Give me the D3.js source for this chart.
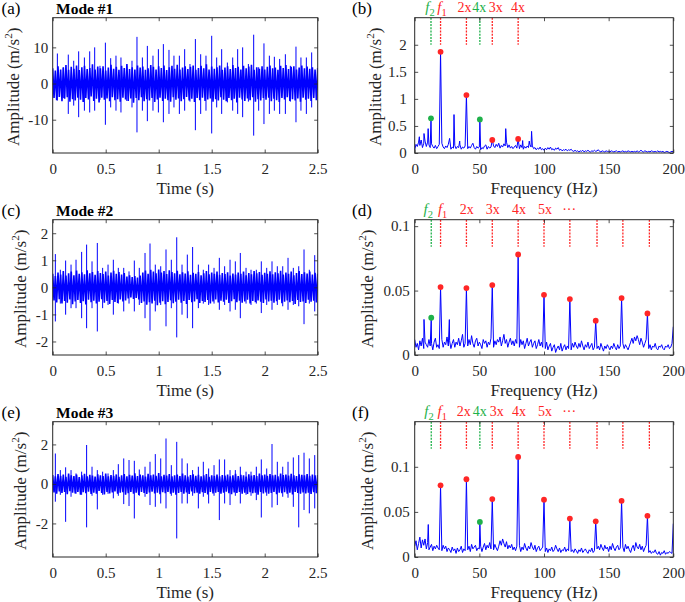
<!DOCTYPE html>
<html><head><meta charset="utf-8">
<script src="https://cdn.jsdelivr.net/npm/d3@7"></script>
<style>body{margin:0;background:#fff}svg{display:block}svg text{font-family:"Liberation Serif","Times New Roman",Times,serif}</style>
</head><body>
<svg id="c" width="685" height="602"></svg>
<script>
// ---------------- DATA ----------------
const timeTicks = [0, 0.5, 1, 1.5, 2, 2.5];
const freqTicks = [0, 50, 100, 150, 200];
const panelLetters = ["(a)", "(b)", "(c)", "(d)", "(e)", "(f)"];
const modeTitles = ["Mode #1", "Mode #2", "Mode #3"];

// time-domain: core band envelope (upper/lower, evenly spaced over 0..2.5 s)
const aCoreUp = [4.2,3.6,4.8,3.9,4.4,5.1,3.8,4.6,4.1,5.0,3.7,4.5,4.9,4.0,4.3,5.3,3.9,4.7,4.2,4.8,3.6,4.4,5.2,4.1,4.6,3.8,4.9,4.3,5.4,4.0,4.5,3.9,5.0,4.4,4.7,3.8,4.2,5.1,4.6,3.9,4.8,4.3,5.0,3.7,4.5,4.9,4.1,5.2,3.9,4.4,4.8,4.0,4.6,5.0,3.8,4.3,4.9,4.2,5.3,3.9,4.7,4.1,4.5,5.0,3.8,4.4,4.8,4.0,5.1,4.3,4.6,3.9,4.9,4.2,4.7,5.2,3.8,4.5,4.1,4.8,3.9,4.6,5.0,4.2,4.4,3.8,4.9,4.3,5.1,4.0,4.6,4.8,3.9,4.4,5.0,4.2,4.7,4.1,4.5,3.9,4.3];
const aCoreLo = [-4.0,-4.6,-3.7,-4.9,-4.2,-3.8,-5.0,-4.3,-4.7,-3.9,-4.5,-5.1,-4.0,-4.4,-3.6,-4.8,-4.2,-5.2,-3.9,-4.5,-4.1,-4.9,-3.8,-4.6,-4.3,-5.0,-3.9,-4.4,-4.8,-4.1,-5.3,-4.0,-4.6,-3.8,-4.9,-4.3,-4.7,-4.0,-5.1,-4.4,-3.9,-4.8,-4.2,-4.6,-5.0,-3.8,-4.5,-4.1,-4.9,-4.3,-3.7,-4.7,-4.2,-5.1,-4.0,-4.6,-3.9,-4.8,-4.4,-4.1,-5.0,-4.3,-4.7,-3.8,-4.5,-4.9,-4.0,-4.6,-4.2,-5.2,-3.9,-4.4,-4.8,-4.1,-4.6,-3.8,-5.0,-4.3,-4.7,-4.0,-4.5,-3.9,-4.9,-4.2,-4.6,-5.1,-4.0,-4.4,-3.8,-4.8,-4.3,-4.7,-4.1,-5.0,-3.9,-4.5,-4.2,-4.8,-4.0,-4.6,-4.3];
const aSpikeT = [0.044,0.100,0.147,0.198,0.245,0.299,0.349,0.396,0.446,0.497,0.547,0.597,0.644,0.698,0.748,0.795,0.846,0.893,0.946,0.997,1.044,1.097,1.144,1.195,1.245,1.295,1.346,1.396,1.446,1.500,1.547,1.594,1.648,1.698,1.745,1.792,1.846,1.896,1.943,1.993,2.044,2.091,2.141,2.195,2.242,2.295,2.342,2.393,2.443];
const aSpikeUp = [8.3,4.5,8.0,6.3,8.9,7.2,8.9,10.0,4.9,11.3,7.0,7.7,7.2,4.9,6.3,12.9,7.2,10.4,7.7,9.5,10.9,9.3,7.7,7.7,9.5,5.4,12.3,8.1,7.7,13.2,7.2,9.5,5.8,7.2,9.5,10.0,5.4,13.5,4.5,11.1,7.7,7.4,6.8,8.1,4.9,10.2,7.2,7.2,8.6];
const aSpikeDn = [-4.7,-4.0,-8.4,-6.1,-9.3,-7.5,-8.0,-7.5,-4.5,-11.4,-6.6,-7.5,-8.0,-4.8,-6.6,-13.5,-7.5,-10.4,-7.5,-8.0,-10.7,-8.4,-6.6,-8.4,-7.5,-5.0,-12.9,-8.4,-7.5,-13.8,-6.6,-8.4,-5.2,-7.5,-8.4,-9.3,-5.0,-14.4,-7.5,-11.2,-8.4,-7.5,-8.4,-8.4,-5.0,-10.7,-7.5,-8.4,-6.6];

const cCoreUp = [0.50,0.42,0.55,0.47,0.60,0.44,0.52,0.58,0.45,0.62,0.50,0.56,0.48,0.63,0.52,0.57,0.46,0.60,0.53,0.49,0.58,0.44,0.55,0.61,0.50,0.57,0.47,0.53,0.40,0.45,0.38,0.42,0.36,0.44,0.55,0.62,0.50,0.65,0.58,0.52,0.66,0.55,0.60,0.49,0.63,0.57,0.52,0.61,0.48,0.56,0.51,0.59,0.46,0.54,0.50,0.57,0.45,0.52,0.60,0.48,0.55,0.50,0.58,0.46,0.53,0.49,0.56,0.44,0.51,0.47,0.55,0.50,0.58,0.45,0.53,0.48,0.60,0.52,0.57,0.46,0.54,0.50,0.59,0.48,0.56,0.52,0.61,0.47,0.55,0.50,0.58,0.45,0.53,0.60,0.49,0.56,0.51,0.58,0.47,0.54,0.50];
const cCoreLo = [-0.48,-0.56,-0.44,-0.60,-0.50,-0.57,-0.45,-0.62,-0.52,-0.47,-0.58,-0.51,-0.63,-0.46,-0.55,-0.49,-0.60,-0.53,-0.44,-0.57,-0.50,-0.61,-0.47,-0.54,-0.58,-0.45,-0.52,-0.48,-0.41,-0.37,-0.43,-0.39,-0.45,-0.58,-0.52,-0.64,-0.55,-0.60,-0.49,-0.66,-0.57,-0.51,-0.62,-0.54,-0.48,-0.59,-0.53,-0.46,-0.57,-0.50,-0.61,-0.47,-0.55,-0.52,-0.44,-0.58,-0.50,-0.54,-0.47,-0.60,-0.52,-0.45,-0.56,-0.49,-0.53,-0.46,-0.58,-0.51,-0.44,-0.55,-0.49,-0.57,-0.52,-0.46,-0.60,-0.50,-0.55,-0.48,-0.53,-0.58,-0.45,-0.52,-0.49,-0.57,-0.51,-0.46,-0.59,-0.53,-0.48,-0.55,-0.50,-0.61,-0.47,-0.54,-0.52,-0.58,-0.46,-0.53,-0.49,-0.56,-0.51];
const cSpikeT = [0.025,0.072,0.122,0.173,0.220,0.273,0.320,0.371,0.421,0.471,0.522,0.572,0.619,0.670,0.720,0.770,0.817,0.871,0.918,0.968,1.019,1.069,1.119,1.170,1.220,1.270,1.320,1.374,1.421,1.471,1.522,1.572,1.622,1.673,1.723,1.770,1.824,1.871,1.921,1.968,2.019,2.069,2.119,2.170,2.220,2.270,2.321,2.371,2.421,2.472];
const cSpikeUp = [1.23,0.65,0.99,0.84,1.02,1.31,1.58,0.96,1.64,0.72,0.84,1.02,0.72,0.72,0.59,0.99,0.72,1.27,1.62,0.84,0.78,1.40,1.02,1.85,0.84,1.21,1.49,0.84,0.65,0.84,0.72,1.09,0.78,1.02,0.96,1.27,0.72,0.65,0.65,0.96,0.72,0.96,0.78,0.78,1.09,0.72,0.78,1.40,0.65,1.19];
const cSpikeDn = [-1.26,-0.60,-1.01,-0.77,-0.77,-1.14,-1.51,-0.77,-1.63,-0.77,-0.65,-1.01,-0.60,-0.89,-0.60,-0.89,-0.65,-1.14,-1.60,-0.89,-0.65,-1.44,-0.77,-1.85,-1.01,-1.14,-1.51,-0.77,-0.60,-0.65,-0.60,-0.83,-0.65,-0.89,-0.83,-1.14,-0.60,-0.65,-0.60,-0.95,-0.65,-0.83,-0.65,-0.70,-0.83,-0.65,-0.70,-1.36,-0.60,-0.89];

const eCoreUp = [0.45,0.38,0.50,0.41,0.47,0.36,0.52,0.43,0.40,0.48,0.35,0.44,0.51,0.39,0.46,0.42,0.37,0.49,0.44,0.40,0.53,0.38,0.45,0.41,0.48,0.36,0.43,0.50,0.39,0.46,0.42,0.54,0.40,0.47,0.44,0.37,0.51,0.43,0.48,0.41,0.55,0.39,0.46,0.42,0.50,0.38,0.44,0.47,0.40,0.52,0.43,0.37,0.45,0.49,0.41,0.46,0.39,0.43,0.50,0.36,0.44,0.41,0.47,0.38,0.45,0.42,0.48,0.39,0.44,0.51,0.40,0.46,0.43,0.37,0.49,0.42,0.45,0.40,0.52,0.44,0.47,0.41,0.50,0.43,0.46,0.39,0.53,0.45,0.48,0.42,0.51,0.44,0.40,0.49,0.46,0.43,0.50,0.41,0.47,0.44,0.45];
const eCoreLo = [-0.43,-0.50,-0.38,-0.46,-0.41,-0.52,-0.37,-0.45,-0.48,-0.40,-0.55,-0.42,-0.47,-0.39,-0.51,-0.44,-0.49,-0.36,-0.46,-0.53,-0.41,-0.48,-0.43,-0.38,-0.50,-0.45,-0.42,-0.54,-0.47,-0.40,-0.49,-0.44,-0.56,-0.41,-0.46,-0.51,-0.43,-0.39,-0.48,-0.45,-0.52,-0.42,-0.47,-0.40,-0.50,-0.44,-0.55,-0.46,-0.41,-0.49,-0.43,-0.51,-0.38,-0.47,-0.44,-0.50,-0.42,-0.46,-0.53,-0.40,-0.48,-0.44,-0.41,-0.50,-0.45,-0.39,-0.47,-0.52,-0.43,-0.46,-0.40,-0.49,-0.44,-0.51,-0.42,-0.47,-0.45,-0.54,-0.41,-0.48,-0.43,-0.50,-0.46,-0.40,-0.52,-0.44,-0.47,-0.42,-0.49,-0.45,-0.53,-0.41,-0.46,-0.50,-0.43,-0.48,-0.45,-0.51,-0.42,-0.47,-0.44];
const eSpikeT = [0.025,0.072,0.122,0.173,0.220,0.273,0.320,0.371,0.421,0.471,0.522,0.572,0.619,0.670,0.720,0.770,0.817,0.871,0.918,0.968,1.019,1.069,1.119,1.170,1.220,1.270,1.320,1.374,1.421,1.471,1.522,1.572,1.622,1.673,1.723,1.770,1.824,1.871,1.921,1.968,2.019,2.069,2.119,2.170,2.220,2.270,2.321,2.371,2.421,2.472];
const eSpikeUp = [1.54,0.70,0.84,0.70,0.53,0.62,1.97,0.87,0.70,0.62,0.53,0.70,1.00,1.29,1.21,1.17,0.73,0.87,1.12,1.51,1.29,2.30,0.95,2.13,1.29,1.04,0.70,0.87,1.12,0.78,0.95,1.24,1.24,0.70,0.70,0.87,0.62,0.62,0.87,1.24,0.78,2.02,1.12,0.87,1.12,1.34,1.46,1.58,1.29,1.46];
const eSpikeDn = [-0.90,-0.55,-1.92,-0.65,-0.50,-0.55,-2.20,-0.60,-1.29,-0.55,-0.50,-0.73,-0.60,-1.02,-1.12,-1.75,-0.60,-0.65,-1.07,-1.16,-0.99,-1.24,-0.60,-2.76,-0.99,-0.99,-0.60,-1.24,-0.65,-0.99,-0.60,-1.83,-0.99,-1.07,-0.60,-0.99,-0.55,-0.60,-0.82,-1.70,-0.60,-1.19,-1.07,-0.65,-0.70,-1.16,-2.20,-1.32,-1.49,-1.24];

// spectra: background amplitude at 0,1,2,...,200 Hz
const bNoise = [0.06,0.16,0.12,0.20,0.14,0.24,0.10,0.18,0.22,0.12,0.20,0.15,0.10,0.17,0.12,0.09,0.14,0.08,0.12,0.16,0.10,0.18,0.11,0.08,0.13,0.10,0.16,0.12,0.07,0.11,0.09,0.14,0.08,0.12,0.10,0.15,0.07,0.11,0.09,0.13,0.10,0.08,0.12,0.09,0.14,0.18,0.10,0.07,0.12,0.09,0.11,0.06,0.10,0.08,0.13,0.15,0.07,0.12,0.09,0.11,0.08,0.13,0.10,0.16,0.12,0.18,0.09,0.14,0.11,0.17,0.13,0.20,0.10,0.15,0.09,0.12,0.08,0.11,0.14,0.09,0.12,0.08,0.15,0.10,0.07,0.12,0.09,0.13,0.10,0.16,0.11,0.13,0.08,0.10,0.06,0.09,0.07,0.11,0.06,0.08,0.05,0.09,0.06,0.10,0.07,0.11,0.06,0.08,0.05,0.09,0.07,0.10,0.05,0.07,0.04,0.06,0.05,0.07,0.04,0.06,0.05,0.07,0.04,0.03,0.05,0.03,0.04,0.02,0.04,0.03,0.05,0.02,0.04,0.03,0.05,0.03,0.02,0.04,0.03,0.05,0.03,0.04,0.06,0.03,0.02,0.04,0.03,0.02,0.04,0.03,0.03,0.02,0.04,0.03,0.02,0.03,0.04,0.02,0.03,0.02,0.03,0.04,0.02,0.03,0.02,0.04,0.03,0.02,0.03,0.02,0.03,0.02,0.04,0.02,0.03,0.05,0.03,0.02,0.04,0.03,0.02,0.03,0.02,0.04,0.03,0.02,0.03,0.02,0.04,0.02,0.03,0.02,0.03,0.01,0.02,0.03,0.02,0.01,0.02,0.03,0.02];
const bSpikeF = [3.6,7.2,10.4,27,30.4,34.8,70.4,83.5,88.6,90.4];
const bSpikeA = [0.30,0.36,0.45,0.27,0.71,0.22,0.45,0.23,0.22,0.40];
const bRedF = [20,40,60,80], bRedA = [1.87,1.07,0.24,0.26];
const bGreenF = [12.6,50.4], bGreenA = [0.64,0.62];

const dNoise = [0.012,0.006,0.009,0.004,0.011,0.007,0.013,0.005,0.010,0.008,0.006,0.012,0.007,0.009,0.004,0.010,0.013,0.006,0.008,0.005,0.009,0.012,0.006,0.010,0.008,0.014,0.007,0.011,0.005,0.009,0.012,0.006,0.010,0.008,0.013,0.007,0.011,0.016,0.006,0.009,0.010,0.007,0.012,0.008,0.015,0.009,0.006,0.011,0.013,0.007,0.010,0.008,0.005,0.012,0.009,0.011,0.006,0.010,0.008,0.013,0.009,0.006,0.011,0.008,0.012,0.010,0.014,0.007,0.011,0.016,0.009,0.012,0.006,0.010,0.013,0.008,0.011,0.007,0.012,0.009,0.010,0.006,0.012,0.008,0.011,0.005,0.009,0.013,0.007,0.010,0.012,0.006,0.009,0.011,0.005,0.008,0.012,0.007,0.010,0.006,0.008,0.005,0.010,0.004,0.007,0.009,0.003,0.006,0.008,0.002,0.005,0.007,0.004,0.009,0.003,0.006,0.008,0.004,0.007,0.005,0.008,0.004,0.009,0.006,0.010,0.007,0.005,0.009,0.006,0.011,0.007,0.004,0.008,0.006,0.010,0.005,0.007,0.009,0.004,0.006,0.008,0.005,0.007,0.004,0.009,0.006,0.003,0.007,0.005,0.008,0.006,0.004,0.007,0.005,0.009,0.006,0.004,0.008,0.005,0.007,0.006,0.009,0.005,0.008,0.006,0.004,0.007,0.010,0.013,0.009,0.014,0.011,0.015,0.012,0.008,0.013,0.010,0.006,0.009,0.012,0.007,0.005,0.008,0.004,0.007,0.006,0.009,0.005,0.004,0.007,0.006,0.008,0.005,0.004,0.007,0.006,0.008,0.005,0.006,0.009,0.022];
const dSpikeF = [7.2,26.8];
const dSpikeA = [0.0276,0.0275];
const dRedF = [20,40,60,80,100,120,140,160,180];
const dRedA = [0.0527,0.0519,0.0543,0.0780,0.0467,0.0434,0.0266,0.0442,0.0323];
const dGreenF = [12.8], dGreenA = [0.0289];

const fNoise = [0.012,0.018,0.008,0.015,0.022,0.010,0.019,0.013,0.020,0.009,0.016,0.008,0.011,0.014,0.007,0.012,0.009,0.013,0.010,0.008,0.011,0.007,0.013,0.009,0.012,0.006,0.010,0.008,0.005,0.011,0.007,0.009,0.004,0.010,0.006,0.008,0.012,0.005,0.009,0.007,0.010,0.008,0.012,0.006,0.014,0.009,0.011,0.013,0.007,0.010,0.009,0.012,0.006,0.011,0.015,0.008,0.013,0.010,0.016,0.009,0.011,0.008,0.014,0.010,0.007,0.012,0.018,0.013,0.020,0.015,0.011,0.017,0.009,0.013,0.010,0.014,0.008,0.011,0.007,0.012,0.009,0.013,0.006,0.011,0.008,0.015,0.010,0.007,0.012,0.009,0.016,0.011,0.008,0.013,0.006,0.010,0.012,0.007,0.009,0.011,0.008,0.006,0.010,0.005,0.009,0.007,0.011,0.006,0.008,0.013,0.009,0.006,0.010,0.005,0.008,0.007,0.011,0.006,0.009,0.007,0.010,0.006,0.008,0.005,0.009,0.007,0.004,0.008,0.006,0.010,0.005,0.007,0.009,0.006,0.004,0.008,0.006,0.010,0.005,0.007,0.006,0.009,0.012,0.008,0.014,0.010,0.007,0.013,0.009,0.011,0.006,0.012,0.008,0.015,0.010,0.007,0.011,0.013,0.008,0.010,0.007,0.011,0.006,0.014,0.009,0.012,0.008,0.005,0.010,0.013,0.007,0.016,0.011,0.009,0.014,0.008,0.012,0.006,0.010,0.013,0.008,0.005,0.007,0.004,0.006,0.005,0.008,0.004,0.003,0.006,0.002,0.005,0.004,0.007,0.003,0.005,0.004,0.006,0.005,0.004,0.037];
const fSpikeF = [10.5];
const fSpikeA = [0.036];
const fRedF = [20,40,60,80,100,120,140,160,180];
const fRedA = [0.0795,0.0862,0.0642,0.1110,0.0635,0.0426,0.0396,0.0623,0.0456];
const fGreenF = [50.4], fGreenA = [0.0389];

// harmonic marker lines (Hz) and lower end of each marker line (amplitude)
const bLineRed = [20,40,60,80], bLineGreen = [12.6,50.4], bLineLow = 2.0;
const dLineRed = [20,40,60,80,100,120,141,161,181.5], dLineGreen = [12.8], dLineLow = 0.084;
const fLineRed = [20,40,60,80,100,120,141,161,181.5], fLineGreen = [12.8,50.4], fLineLow = 0.12;

// annotation labels above spectra: text, centre frequency, colour key
const bLabelTxt = ["f2","f1","2x","4x","3x","4x"];
const bLabelF   = [11.8,21.1,38.6,49.9,62.6,79.9];
const bLabelC   = ["g","r","r","g","r","r"];
const dLabelTxt = ["f2","f1","2x","3x","4x","5x","\u00b7\u00b7\u00b7"];
const dLabelF   = [10.5,21.6,40.2,60.3,80.6,100.7,119.5];
const dLabelC   = ["g","r","r","r","r","r","r"];
const fLabelTxt = ["f2","f1","2x","4x","3x","4x","5x","\u00b7\u00b7\u00b7"];
const fLabelF   = [11.1,21.3,37.9,50.3,63.4,80.6,100.7,119.5];
const fLabelC   = ["g","r","r","g","r","r","r","r"];

// ---------------- DRAWING ----------------
const FONT = '"Liberation Serif","Times New Roman",Times,serif';
const BLUE = "#0000ff", RED = "#ff2626", GREEN = "#1fb14a", AX = "#262626";
const svg = d3.select("#c");
const LX = [52.7, 317.7], RX = [414.7, 673.3];
const TOPS = [17.7, 219.7, 421.7], H = 135.3;

function frame(g, x, y, xTicks, yTicks, padL) {
  const b = y.range()[0], t = y.range()[1], l = x.range()[0], r = x.range()[1];
  const fmt = d => String(d);
  g.append("g").attr("transform", `translate(0,${b})`)
    .call(d3.axisBottom(x).tickValues(xTicks).tickSizeInner(-3.5).tickSizeOuter(0).tickPadding(10).tickFormat(fmt));
  g.append("g").attr("transform", `translate(0,${t})`)
    .call(d3.axisTop(x).tickValues(xTicks).tickSizeInner(-3.5).tickSizeOuter(0).tickFormat(""));
  g.append("g").attr("transform", `translate(${l},0)`)
    .call(d3.axisLeft(y).tickValues(yTicks).tickSizeInner(-3.5).tickSizeOuter(0).tickPadding(padL).tickFormat(fmt));
  g.append("g").attr("transform", `translate(${r},0)`)
    .call(d3.axisRight(y).tickValues(yTicks).tickSizeInner(-3.5).tickSizeOuter(0).tickFormat(""));
  g.selectAll(".domain").remove();
  g.selectAll(".tick line").attr("stroke", AX).attr("stroke-width", 0.8);
  g.selectAll(".tick text").style("font-family", FONT).attr("font-size", 15).attr("fill", AX);
  g.append("rect").attr("x", l).attr("y", t).attr("width", r - l).attr("height", b - t)
    .attr("fill", "none").attr("stroke", AX).attr("stroke-width", 1);
}

function yTitle(g, xPos, yMid) {
  const t = g.append("text").attr("transform", `translate(${xPos},${yMid}) rotate(-90)`)
    .attr("text-anchor", "middle").style("font-family", FONT).attr("font-size", 17).attr("fill", AX);
  t.append("tspan").text("Amplitude (m/s");
  t.append("tspan").attr("font-size", 11).attr("dy", -7).text("2");
  t.append("tspan").attr("dy", 7).text(")");
}

function xTitle(g, x, b, txt) {
  g.append("text").attr("x", (x.range()[0] + x.range()[1]) / 2).attr("y", b + 41)
    .attr("text-anchor", "middle").style("font-family", FONT).attr("font-size", 17).attr("fill", AX).text(txt);
}

function timePanel(row, yDom, yTicks, coreUp, coreLo, spT, spUp, spDn, yTitleX, padL) {
  const top = TOPS[row], bot = top + H;
  const g = svg.append("g");
  const x = d3.scaleLinear().domain([0, 2.5]).range(LX);
  const y = d3.scaleLinear().domain(yDom).range([bot, top]);
  const cid = "clipT" + row;
  svg.append("clipPath").attr("id", cid).append("rect")
    .attr("x", LX[0]).attr("y", top).attr("width", LX[1] - LX[0]).attr("height", H);
  const pg = g.append("g").attr("clip-path", `url(#${cid})`);
  const n = coreUp.length, dt = 2.5 / (n - 1);
  const pts = [];
  for (let i = 0; i < n; i++) { pts.push([i * dt, coreUp[i]]); pts.push([i * dt + dt / 2, coreLo[i]]); }
  pg.append("path").attr("d", d3.line().x(d => x(d[0])).y(d => y(d[1]))(pts))
    .attr("fill", "none").attr("stroke", BLUE).attr("stroke-width", 1.6).attr("stroke-linejoin", "miter");
  pg.selectAll("line.sp").data(d3.range(spT.length)).join("line")
    .attr("x1", i => x(spT[i])).attr("x2", i => x(spT[i]))
    .attr("y1", i => y(spUp[i])).attr("y2", i => y(spDn[i]))
    .attr("stroke", BLUE).attr("stroke-width", 1);
  frame(g, x, y, timeTicks, yTicks, padL);
  yTitle(g, yTitleX, (top + bot) / 2 + 1.5);
  xTitle(g, x, bot, "Time (s)");
  g.append("text").attr("x", 1.5).attr("y", top - 3.5).style("font-family", FONT).attr("font-size", 17)
    .attr("fill", "#000").text(panelLetters[row * 2]);
  g.append("text").attr("x", 56).attr("y", top - 4).style("font-family", FONT).attr("font-size", 15.5)
    .attr("font-weight", "bold").attr("fill", "#000").text(modeTitles[row]);
}

function specPanel(row, yMax, yTicks, noise, spF, spA, redF, redA, grF, grA, lineRed, lineGreen, lineLow,
                   labTxt, labF, labC, yTitleX, padL) {
  const top = TOPS[row], bot = top + H;
  const g = svg.append("g");
  const x = d3.scaleLinear().domain([0, 200]).range(RX);
  const y = d3.scaleLinear().domain([0, yMax]).range([bot, top]);
  const cid = "clipS" + row;
  svg.append("clipPath").attr("id", cid).append("rect")
    .attr("x", RX[0]).attr("y", top).attr("width", RX[1] - RX[0]).attr("height", H);
  const pg = g.append("g").attr("clip-path", `url(#${cid})`);
  const m = new Map();
  noise.forEach((v, i) => m.set(i, v));
  spF.forEach((f, i) => m.set(f, spA[i]));
  redF.forEach((f, i) => m.set(f, redA[i]));
  grF.forEach((f, i) => m.set(f, grA[i]));
  const pts = Array.from(m.entries()).sort((a, b) => a[0] - b[0]);
  pg.append("path").attr("d", d3.line().x(d => x(d[0])).y(d => y(d[1]))(pts))
    .attr("fill", "none").attr("stroke", BLUE).attr("stroke-width", 1);
  const ml = (arr, col) => pg.selectAll(null).data(arr).join("line")
    .attr("x1", d => x(d)).attr("x2", d => x(d)).attr("y1", y(yMax)).attr("y2", y(lineLow))
    .attr("stroke", col).attr("stroke-width", 1.3).attr("stroke-dasharray", "2,1.2");
  ml(lineRed, RED); ml(lineGreen, GREEN);
  pg.selectAll(null).data(d3.range(redF.length)).join("circle")
    .attr("cx", i => x(redF[i])).attr("cy", i => y(redA[i])).attr("r", 2.9).attr("fill", RED);
  pg.selectAll(null).data(d3.range(grF.length)).join("circle")
    .attr("cx", i => x(grF[i])).attr("cy", i => y(grA[i])).attr("r", 2.9).attr("fill", GREEN);
  frame(g, x, y, freqTicks, yTicks, padL);
  yTitle(g, yTitleX, (top + bot) / 2 + 1.5);
  xTitle(g, x, bot, "Frequency (Hz)");
  g.append("text").attr("x", 352).attr("y", top - 3.5).style("font-family", FONT).attr("font-size", 17)
    .attr("fill", "#000").text(panelLetters[row * 2 + 1]);
  labTxt.forEach((s, i) => {
    const t = g.append("text").attr("x", x(labF[i])).attr("y", top - 5.3).attr("text-anchor", "middle")
      .style("font-family", FONT).attr("font-size", 14).attr("fill", labC[i] === "g" ? GREEN : RED);
    if (s[0] === "f") {
      t.append("tspan").attr("font-style", "italic").attr("font-size", 15).text("f");
      t.append("tspan").attr("font-size", 10.5).attr("dy", 3.5).text(s.slice(1));
    } else t.text(s);
  });
}

timePanel(0, [-19.2, 18.2], [-10, 0, 10], aCoreUp, aCoreLo, aSpikeT, aSpikeUp, aSpikeDn, 18.5, 4.5);
timePanel(1, [-2.5, 2.5], [-2, -1, 0, 1, 2], cCoreUp, cCoreLo, cSpikeT, cSpikeUp, cSpikeDn, 25.6, 4.5);
timePanel(2, [-3.7, 3.15], [-2, 0, 2], eCoreUp, eCoreLo, eSpikeT, eSpikeUp, eSpikeDn, 25.6, 4.5);
specPanel(0, 2.5, [0, 0.5, 1, 1.5, 2], bNoise, bSpikeF, bSpikeA, bRedF, bRedA, bGreenF, bGreenA,
  bLineRed, bLineGreen, bLineLow, bLabelTxt, bLabelF, bLabelC, 380.6, 8);
specPanel(1, 0.105, [0, 0.05, 0.1], dNoise, dSpikeF, dSpikeA, dRedF, dRedA, dGreenF, dGreenA,
  dLineRed, dLineGreen, dLineLow, dLabelTxt, dLabelF, dLabelC, 373, 5);
specPanel(2, 0.15, [0, 0.05, 0.1], fNoise, fSpikeF, fSpikeA, fRedF, fRedA, fGreenF, fGreenA,
  fLineRed, fLineGreen, fLineLow, fLabelTxt, fLabelF, fLabelC, 373, 5);
</script>
</body></html>
